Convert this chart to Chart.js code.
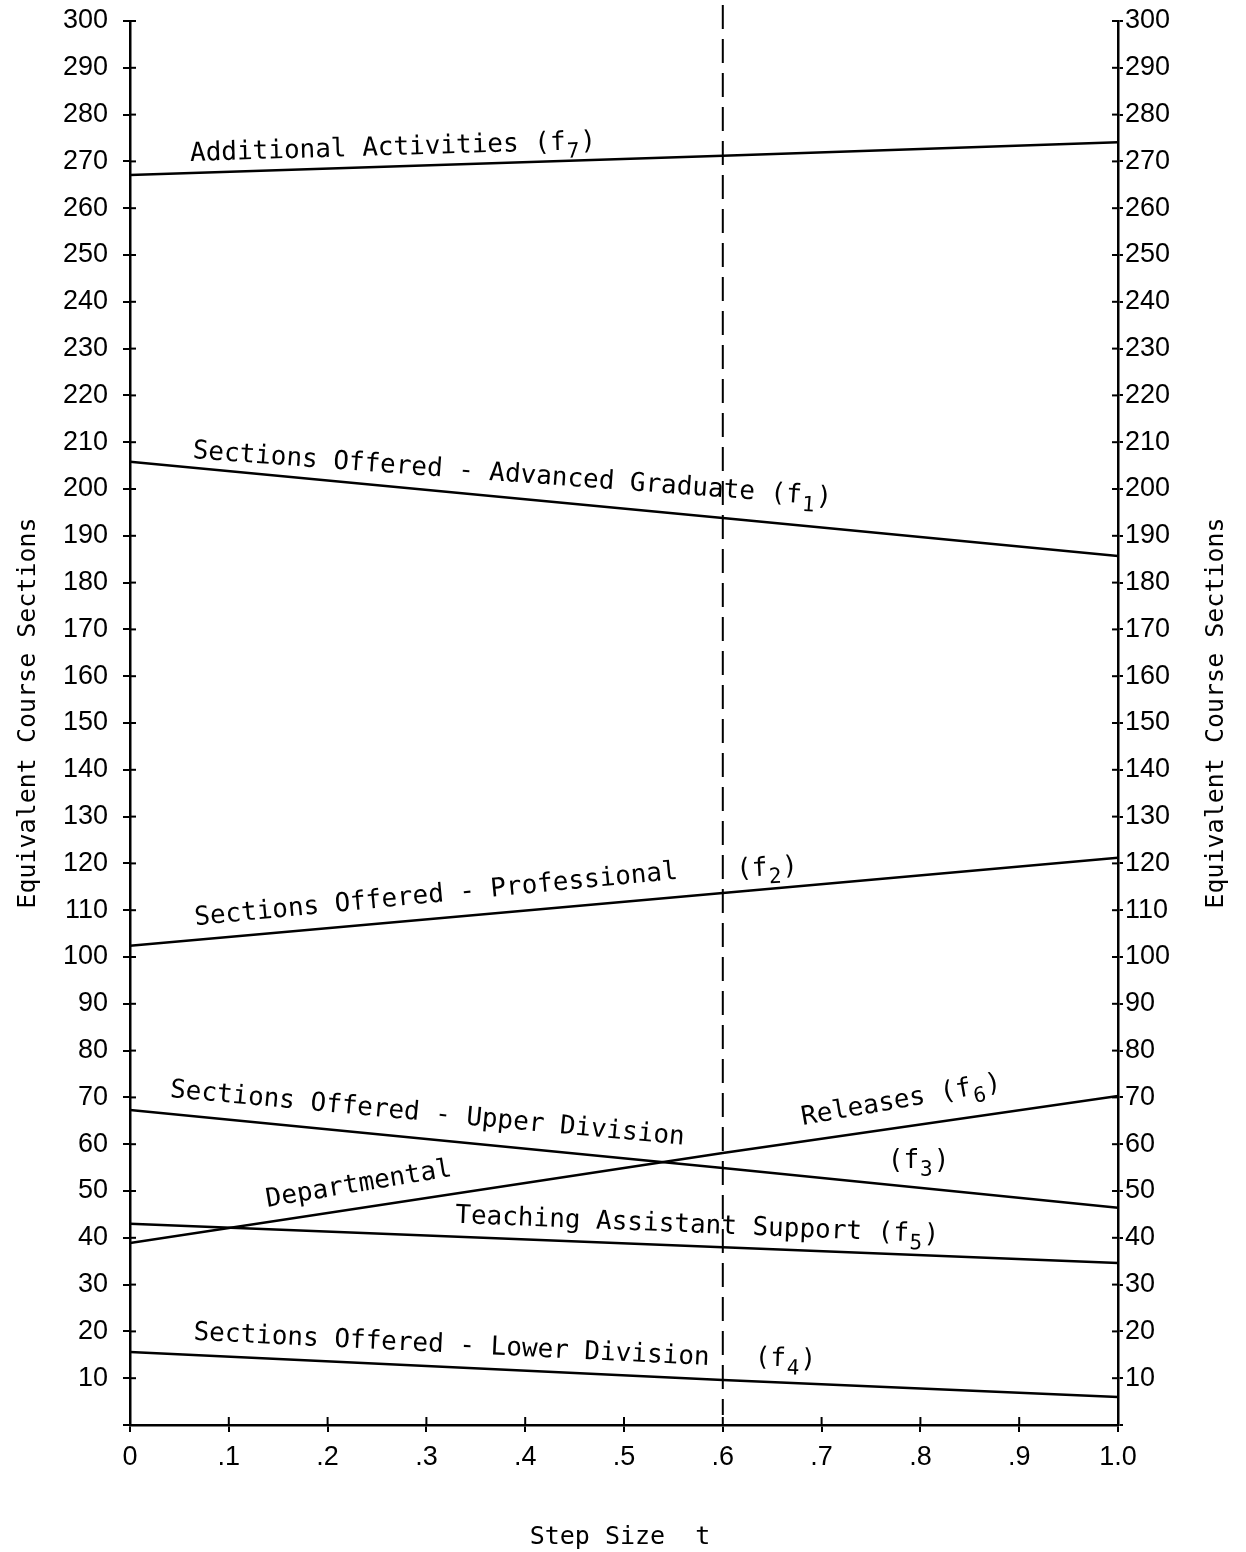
<!DOCTYPE html>
<html>
<head>
<meta charset="utf-8">
<script src="https://cdn.jsdelivr.net/npm/chart.js@4/dist/chart.umd.min.js"></script>
<style>
html,body{margin:0;padding:0;background:#fff;}
#wrap{width:1246px;height:1552px;position:relative;}
</style>
</head>
<body>
<div id="wrap"><canvas id="c"></canvas></div>
<script>
// ---- data ----
const stepT = [0, 0.6, 1.0];
const f7AdditionalActivities = [267.1, 271.2, 274.1];
const f1AdvancedGraduate = [205.8, 193.8, 185.7];
const f2Professional = [102.4, 113.7, 121.2];
const f3UpperDivision = [67.3, 54.9, 46.4];
const f6DepartmentalReleases = [38.9, 58.1, 70.3];
const f5TeachingAssistant = [43.0, 38.0, 34.6];
const f4LowerDivision = [15.6, 9.6, 6.0];
const xTickValues = [0, 0.1, 0.2, 0.3, 0.4, 0.5, 0.6, 0.7, 0.8, 0.9, 1.0];
const xTickLabels = ['0', '.1', '.2', '.3', '.4', '.5', '.6', '.7', '.8', '.9', '1.0'];
const yMin = 0, yMax = 300, yStep = 10;
const markerT = 0.6;
const yTitle = 'Equivalent Course Sections';
const xTitle = 'Step Size  t';

// label texts: [text segments], subscript marked with a second element
const curveLabels = [
  {segs: [['Additional Activities (f'], ['7', 1], [')']], t: 0.061, v: 270.1, ang: -1.7},
  {segs: [['Sections Offered - Advanced Graduate (f'], ['1', 1], [')']], t: 0.063, v: 206.6, ang: 4.2},
  {segs: [['Sections Offered - Professional']], t: 0.066, v: 106.8, ang: -5.5},
  {segs: [['(f'], ['2', 1], [')']], t: 0.614, v: 117.1, ang: -3},
  {segs: [['Sections Offered - Upper Division']], t: 0.040, v: 70.1, ang: 5.3},
  {segs: [['Departmental']], t: 0.139, v: 46.6, ang: -9.5},
  {segs: [['Releases (f'], ['6', 1], [')']], t: 0.681, v: 64.1, ang: -10},
  {segs: [['(f'], ['3', 1], [')']], t: 0.767, v: 54.9, ang: 0},
  {segs: [['Teaching Assistant Support (f'], ['5', 1], [')']], t: 0.329, v: 43.2, ang: 2.3},
  {segs: [['Sections Offered - Lower Division']], t: 0.064, v: 18.2, ang: 2.8},
  {segs: [['(f'], ['4', 1], [')']], t: 0.632, v: 12.8, ang: 2}
];

function pts(vals){ return stepT.map((t,i)=>({x:t, y:vals[i]})); }
const series = [f7AdditionalActivities, f1AdvancedGraduate, f2Professional, f3UpperDivision, f6DepartmentalReleases, f5TeachingAssistant, f4LowerDivision];

const tickFont = {family: 'Liberation Sans', size: 27};
const MONO = '26px "DejaVu Sans Mono"';
const SUB = '21px "DejaVu Sans Mono"';

const overlay = {
  id: 'overlay',
  afterDatasetsDraw(chart){
    const ctx = chart.ctx, xs = chart.scales.x, ys = chart.scales.y;
    const ca = chart.chartArea;
    ctx.save();
    // inner halves of tick marks
    ctx.strokeStyle = '#000'; ctx.lineWidth = 2;
    for (let v = yMin + yStep; v <= yMax; v += yStep){
      const y = ys.getPixelForValue(v);
      ctx.beginPath(); ctx.moveTo(ca.left, y); ctx.lineTo(ca.left + 6, y); ctx.stroke();
      ctx.beginPath(); ctx.moveTo(ca.right, y); ctx.lineTo(ca.right - 6, y); ctx.stroke();
    }
    xTickValues.forEach(v => {
      const x = xs.getPixelForValue(v);
      ctx.beginPath(); ctx.moveTo(x, ca.bottom); ctx.lineTo(x, ca.bottom - 8); ctx.stroke();
    });
    // dashed marker line
    const mx = xs.getPixelForValue(markerT);
    ctx.setLineDash([24, 10]);
    ctx.lineWidth = 2;
    ctx.beginPath(); ctx.moveTo(mx, 5); ctx.lineTo(mx, ca.bottom - 10); ctx.stroke();
    ctx.setLineDash([]);
    // curve labels
    ctx.fillStyle = '#000';
    ctx.textBaseline = 'alphabetic';
    ctx.textAlign = 'left';
    curveLabels.forEach(l => {
      const x = xs.getPixelForValue(l.t), y = ys.getPixelForValue(l.v);
      ctx.save();
      ctx.translate(x, y);
      ctx.rotate(l.ang * Math.PI / 180);
      let cx = 0;
      l.segs.forEach(s => {
        if (s[1]) { ctx.font = SUB; ctx.fillText(s[0], cx + 1, 8); cx += ctx.measureText(s[0]).width + 2; }
        else { ctx.font = MONO; ctx.fillText(s[0], cx, 0); cx += ctx.measureText(s[0]).width; }
      });
      ctx.restore();
    });
    // axis titles
    ctx.font = '25px "DejaVu Sans Mono"';
    ctx.textAlign = 'center'; ctx.textBaseline = 'middle';
    [28, 1216].forEach(x => {
      ctx.save(); ctx.translate(x, 713); ctx.rotate(-Math.PI/2);
      ctx.fillText(yTitle, 0, 0); ctx.restore();
    });
    ctx.fillText(xTitle, 620, 1537);
    ctx.restore();
  }
};

const yScaleCommon = {
  type: 'linear', min: yMin, max: yMax,
  ticks: {stepSize: yStep, color: '#000', font: tickFont,
          callback: v => v === 0 ? '' : String(v)},
  grid: {drawOnChartArea: false, drawTicks: true, color: '#000', lineWidth: 2},
  border: {display: true, color: '#000', width: 2.5},
  title: {display: false}
};

new Chart(document.getElementById('c'), {
  type: 'line',
  data: {
    datasets: series.map(s => ({data: pts(s), borderColor: '#000', borderWidth: 2.5, pointRadius: 0, tension: 0, fill: false}))
  },
  options: {
    responsive: true, maintainAspectRatio: false, animation: false,
    layout: {padding: {top: 21, left: 0, right: 0, bottom: 0}},
    plugins: {legend: {display: false}, tooltip: {enabled: false}},
    scales: {
      x: {
        type: 'linear', min: 0, max: 1,
        afterBuildTicks: s => { s.ticks = xTickValues.map(v => ({value: v})); },
        ticks: {color: '#000', font: tickFont, padding: 9, maxRotation: 0, autoSkip: false,
                callback: (v) => { const i = xTickValues.findIndex(t => Math.abs(t - v) < 1e-6); return i >= 0 ? xTickLabels[i] : ''; }},
        grid: {drawOnChartArea: false, drawTicks: true, tickLength: 7, color: '#000', lineWidth: 2},
        border: {display: true, color: '#000', width: 2.5},
        afterFit: s => { s.height = 127; s.paddingLeft = 0; s.paddingRight = 0; }
      },
      y: Object.assign({}, yScaleCommon, {position: 'left',
        ticks: Object.assign({}, yScaleCommon.ticks, {padding: 15}),
        grid: Object.assign({}, yScaleCommon.grid, {tickLength: 7}),
        afterFit: s => { s.width = 130; s.paddingTop = 0; s.paddingBottom = 0; }}),
      y2: Object.assign({}, yScaleCommon, {position: 'right', display: true,
        ticks: Object.assign({}, yScaleCommon.ticks, {padding: 2}),
        grid: Object.assign({}, yScaleCommon.grid, {tickLength: 5}),
        afterFit: s => { s.width = 128; s.paddingTop = 0; s.paddingBottom = 0; }})
    }
  },
  plugins: [overlay]
});
</script>
</body>
</html>
